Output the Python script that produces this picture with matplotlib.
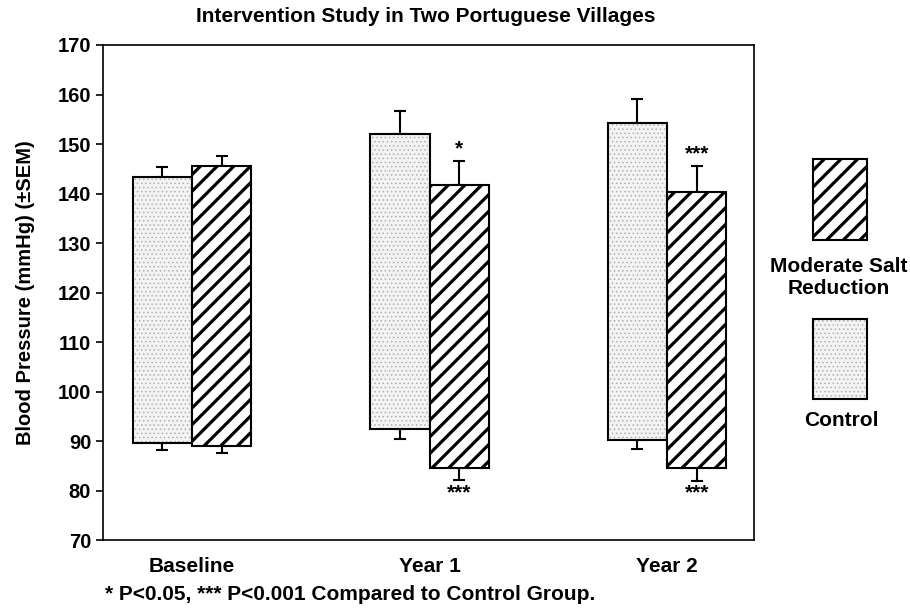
import numpy as np
import matplotlib.pyplot as plt
from matplotlib.patches import Rectangle

plt.rcParams['font.family'] = ['Liberation Sans', 'DejaVu Sans']
plt.rcParams['font.weight'] = 'bold'
plt.rcParams['axes.labelweight'] = 'bold'

# --- Data ---
groups = ['Baseline', 'Year 1', 'Year 2']
control_sys = [143.3, 152.0, 154.2]
control_sys_sem = [2.0, 4.6, 4.8]
control_dia = [89.6, 92.5, 90.2]
control_dia_sem = [1.4, 2.1, 1.8]
salt_sys = [145.5, 141.7, 140.4]
salt_sys_sem = [2.0, 4.8, 5.1]
salt_dia = [89.0, 84.6, 84.6]
salt_dia_sem = [1.4, 2.5, 2.6]
stars_top = ['', '*', '***']
stars_bottom = ['', '***', '***']

x = np.arange(len(groups))
w = 0.25

W, H = 910, 615
fig = plt.figure(figsize=(9.1, 6.15), dpi=100)
ax = fig.add_axes([103 / W, 1 - 540 / H, (754 - 103) / W, (540 - 45) / H])

ctrl_h = np.array(control_sys) - np.array(control_dia)
salt_h = np.array(salt_sys) - np.array(salt_dia)
xc = x - w / 2
xs = x + w / 2

stip_face, stip_dot = '#f3f3f3', '#b0b0b0'
STIP = {'hatch.linewidth': 0.6}
DIAG = {'hatch.linewidth': 2.3}

# control bars: stippled light grey
with plt.rc_context(STIP):
    ax.bar(xc, ctrl_h, w, bottom=control_dia, color=stip_face, edgecolor=stip_dot,
           hatch='....', linewidth=0, zorder=2)
ax.bar(xc, ctrl_h, w, bottom=control_dia, fill=False, edgecolor='black',
       linewidth=1.5, zorder=3)
# salt reduction bars: diagonal hatch
with plt.rc_context(DIAG):
    ax.bar(xs, salt_h, w, bottom=salt_dia, color='white', edgecolor='black',
           hatch='//', linewidth=1.5, zorder=3)

# error bars: up from the top, down from the bottom
ekw = dict(fmt='none', ecolor='black', elinewidth=1.5, capsize=4, capthick=1.5, zorder=1)
z = np.zeros(3)
ax.errorbar(xc, control_sys, yerr=[z, control_sys_sem], **ekw)
ax.errorbar(xc, control_dia, yerr=[control_dia_sem, z], **ekw)
ax.errorbar(xs, salt_sys, yerr=[z, salt_sys_sem], **ekw)
ax.errorbar(xs, salt_dia, yerr=[salt_dia_sem, z], **ekw)

for i in range(3):
    if stars_top[i]:
        ax.text(xs[i], salt_sys[i] + salt_sys_sem[i] + 0.6, stars_top[i],
                ha='center', va='bottom', fontsize=15)
    if stars_bottom[i]:
        ax.text(xs[i], salt_dia[i] - salt_dia_sem[i] - 0.6, stars_bottom[i],
                ha='center', va='top', fontsize=15)

ax.set_xlim(-0.375, 2.366)
ax.set_ylim(70, 170)
ax.set_yticks(np.arange(70, 171, 10))
ax.set_xticks(x)
ax.set_xticklabels(groups, fontsize=15)
ax.tick_params(axis='x', length=0, pad=12)
ax.tick_params(axis='y', labelsize=14.5, length=5, width=1.2)
for s in ax.spines.values():
    s.set_linewidth(1.2)
ax.set_ylabel('Blood Pressure (mmHg) (\u00b1SEM)', fontsize=14.5, labelpad=16)

fig.text(426 / W, 1 - 17 / H, 'Intervention Study in Two Portuguese Villages',
         ha='center', va='center', fontsize=15)
fig.text(105 / W, 1 - 595 / H, '* P<0.05, *** P<0.001 Compared to Control Group.',
         ha='left', va='center', fontsize=15)

# legend drawn by hand on the right
def fig_rect(x0, y0, x1, y1, **kw):
    r = Rectangle((x0 / W, 1 - y1 / H), (x1 - x0) / W, (y1 - y0) / H,
                  transform=fig.transFigure, **kw)
    fig.add_artist(r)

with plt.rc_context(DIAG):
    fig_rect(813, 159, 867, 240, facecolor='white', edgecolor='black', hatch='//', linewidth=1.5)
fig.text(839 / W, 1 - 278 / H, 'Moderate Salt\nReduction', ha='center', va='center',
         fontsize=15, linespacing=1.2)
with plt.rc_context(STIP):
    fig_rect(813, 319, 867, 399, facecolor=stip_face, edgecolor=stip_dot, hatch='....', linewidth=0)
fig_rect(813, 319, 867, 399, fill=False, edgecolor='black', linewidth=1.5)
fig.text(841 / W, 1 - 421 / H, 'Control', ha='center', va='center', fontsize=15)

fig.savefig('out.png', dpi=100)
